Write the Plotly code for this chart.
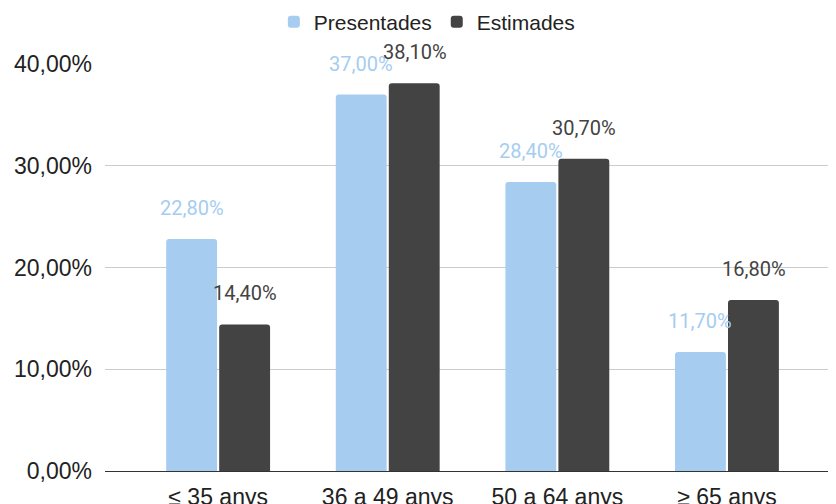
import plotly.graph_objects as go

categories = ["≤ 35 anys", "36 a 49 anys", "50 a 64 anys", "≥ 65 anys"]
presentades = [22.8, 37.0, 28.4, 11.7]
estimades = [14.4, 38.1, 30.7, 16.8]
series_names = ["Presentades", "Estimades"]
y_ticks = [0, 0.1, 0.2, 0.3, 0.4]

BLUE = "#a6cdf0"
DARK = "#434343"
FONT = "Roboto"
AXFONT = "Liberation Sans, Arial, sans-serif"

def fmt(v):
    return f"{v:.2f}".replace(".", ",") + "%"

fig = go.Figure()
for name, vals, col in [(series_names[0], presentades, BLUE), (series_names[1], estimades, DARK)]:
    fig.add_trace(go.Bar(
        x=categories, y=[v / 100 for v in vals], name=name,
        marker=dict(color=col, line=dict(width=0)),
        hoverinfo="skip",
    ))

annotations = []
for vals, col, shift in [(presentades, BLUE, -26.5), (estimades, DARK, 27)]:
    for c, v in zip(categories, vals):
        annotations.append(dict(
            x=c, y=v / 100, xref="x", yref="y", text=fmt(v), showarrow=False,
            xshift=shift, yshift=31, yanchor="middle", xanchor="center",
            font=dict(family=FONT, size=20, color=col),
        ))

# the page body adds an 8px offset; compensate in the margins
fig.update_layout(
    width=836, height=504,
    margin=dict(l=97, r=8, t=56, b=41, pad=0, autoexpand=False),
    paper_bgcolor="white", plot_bgcolor="white",
    separators=",.",
    barmode="group", bargap=0.375, bargroupgap=0.04,
    barcornerradius=3,
    font=dict(family=AXFONT, color="#222222"),
    showlegend=True,
    legend=dict(
        orientation="h", xref="container", yref="container",
        x=0.501, xanchor="center", y=1 - 14 / 504, yanchor="middle",
        font=dict(family=AXFONT, size=21, color="#222222"),
        itemclick=False,
    ),
    annotations=annotations,
)
fig.update_xaxes(
    type="category", range=[-0.667, 3.643], automargin=False,
    showgrid=False, showline=True, linecolor="#333333", linewidth=1,
    ticks="", tickfont=dict(family=AXFONT, size=23, color="#222222"),
    ticklabelstandoff=5,
)
fig.update_yaxes(
    range=[0, 0.4], tickvals=y_ticks, tickformat=".2%", automargin=False,
    showgrid=True, gridcolor="#cccccc", gridwidth=1,
    zeroline=False, showline=False, ticks="",
    tickfont=dict(family=AXFONT, size=23, color="#222222"),
    ticklabelstandoff=12,
)

fig.write_html("out.html")
